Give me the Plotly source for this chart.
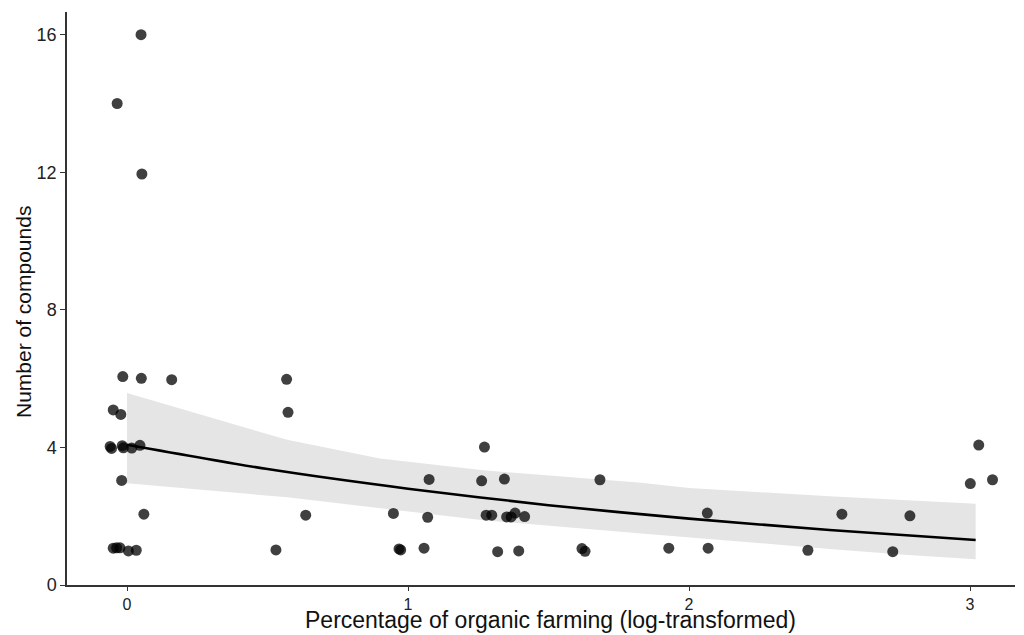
import plotly.graph_objects as go

# Observed data (jittered points)
pt_x = [0.05, -0.035, 0.053,
        -0.015, 0.051, 0.159, 0.568,
        -0.049, -0.022, 0.573,
        -0.06, -0.055, -0.017, -0.013, 0.017, 0.046,
        -0.019,
        0.06, 0.636,
        -0.049, -0.037, -0.025, 0.005, 0.033, 0.53,
        1.272, 1.075, 1.262, 1.343, 1.683,
        0.948, 1.07, 1.278, 1.298, 1.351, 1.367, 1.381, 1.415,
        0.968, 0.974, 1.057, 1.319, 1.394, 1.619, 1.63,
        3.031, 3.001, 3.08,
        2.065, 2.544, 2.786,
        1.928, 2.068, 2.423, 2.725]
pt_y = [16.0, 14.0, 11.95,
        6.06, 6.01, 5.97, 5.98,
        5.09, 4.96, 5.02,
        4.03, 3.97, 4.05, 3.99, 3.98, 4.06,
        3.04,
        2.06, 2.03,
        1.07, 1.08, 1.08, 0.99, 1.01, 1.02,
        4.01, 3.07, 3.03, 3.08, 3.06,
        2.08, 1.97, 2.03, 2.03, 1.98, 1.98, 2.09, 1.99,
        1.05, 1.02, 1.07, 0.97, 0.99, 1.06, 0.98,
        4.07, 2.95, 3.06,
        2.09, 2.06, 2.01,
        1.07, 1.07, 1.01, 0.97]

# Fitted curve
fit_x = [0, 0.5, 1, 1.5, 2, 2.5, 3.02]
fit_y = [4.08, 3.37, 2.80, 2.32, 1.93, 1.60, 1.31]

# Confidence band
band_x = [0, 0.57, 0.9, 1.26, 1.83, 2.0, 2.5, 2.78, 3.02]
band_hi = [5.58, 4.22, 3.68, 3.34, 2.97, 2.82, 2.58, 2.47, 2.36]
band_lo = [2.96, 2.55, 2.23, 1.89, 1.50, 1.40, 1.05, 0.87, 0.75]

x_ticks = [0, 1, 2, 3]
y_ticks = [0, 4, 8, 12, 16]

font_main = "Liberation Sans, Arial, sans-serif"

fig = go.Figure()
fig.add_trace(go.Scatter(
    x=band_x + band_x[::-1], y=band_hi + band_lo[::-1],
    fill="toself", fillcolor="#e5e5e5", line=dict(width=0),
    mode="lines", hoverinfo="skip", showlegend=False))
fig.add_trace(go.Scatter(
    x=pt_x, y=pt_y, mode="markers",
    marker=dict(color="black", opacity=0.75, size=11, line=dict(width=0)),
    showlegend=False))
fig.add_trace(go.Scatter(
    x=fit_x, y=fit_y, mode="lines",
    line=dict(color="black", width=2.6, shape="spline", smoothing=0.6),
    showlegend=False))

fig.update_layout(
    width=1024, height=635,
    margin=dict(l=67, r=9, t=12, b=50),
    plot_bgcolor="white", paper_bgcolor="white",
    showlegend=False,
    annotations=[
        dict(text="Percentage of organic farming (log-transformed)",
             xref="paper", yref="paper", x=0.5105, y=-0.061,
             xanchor="center", yanchor="middle", showarrow=False,
             font=dict(family=font_main, size=23, color="#111111")),
        dict(text="Number of compounds",
             xref="paper", yref="paper", x=-0.0464, y=0.4764,
             xanchor="center", yanchor="middle", showarrow=False, textangle=-90,
             font=dict(family=font_main, size=21, color="#111111")),
    ],
)
fig.update_xaxes(
    range=[-0.2135, 3.16], tickvals=x_ticks, ticktext=[str(v) for v in x_ticks],
    showgrid=False, zeroline=False, showline=True, linecolor="#333333", linewidth=1.5,
    ticks="outside", ticklen=4, tickcolor="#333333", tickwidth=1, automargin=False,
    tickfont=dict(family=font_main, size=16, color="#222222"),
)
fig.update_yaxes(
    range=[0, 16.66], tickvals=y_ticks, ticktext=[str(v) for v in y_ticks],
    showgrid=False, zeroline=False, showline=True, linecolor="#333333", linewidth=1.5,
    ticks="outside", ticklen=5, tickcolor="#333333", tickwidth=1, automargin=False,
    tickfont=dict(family=font_main, size=18, color="#222222"),
)

fig.write_html("out.html", config={"displayModeBar": False},
               post_script="document.body.style.margin='0';")
